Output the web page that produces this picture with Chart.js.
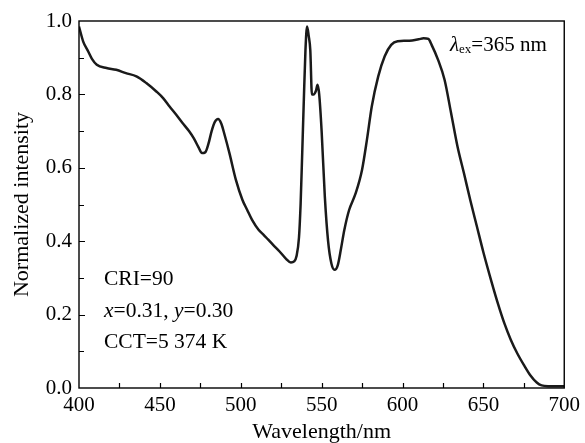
<!DOCTYPE html>
<html><head><meta charset="utf-8">
<script src="https://cdn.jsdelivr.net/npm/chart.js@4"></script>
<style>html,body{margin:0;padding:0;background:#fff;}#wrap{width:585px;height:443px;}</style>
</head><body><div id="wrap"><canvas id="c" width="585" height="443"></canvas></div>
<script>
const wavelengths = [400,402.6,405.7,408,411,417,423,429,435.5,441.6,447.8,452,456,460,464,468,471,474,476,478,480,482,484,486,488,490,493,497,501,504,507,511,514,517,520,524,528,531,533,534.5,536,537,538,539,540,541,542,543,544,545,546.5,547.5,548.5,550,552,554,556,558,560,562,564,567,571,575,578,581,585,589,593,597,602,606,610,613,616,618,622,626,630,634,638,642,646,650,655,659,663,667,671,675,679,683,686,690,700];
const intensity = [0.985,0.944,0.917,0.897,0.881,0.872,0.867,0.858,0.849,0.831,0.808,0.79,0.767,0.745,0.722,0.70,0.68,0.655,0.64,0.642,0.665,0.70,0.725,0.733,0.72,0.69,0.64,0.567,0.513,0.485,0.458,0.431,0.418,0.404,0.39,0.372,0.352,0.342,0.345,0.36,0.41,0.50,0.64,0.785,0.92,0.985,0.96,0.92,0.80,0.80,0.81,0.826,0.80,0.70,0.52,0.40,0.34,0.322,0.335,0.38,0.43,0.485,0.53,0.595,0.676,0.767,0.849,0.904,0.935,0.945,0.946,0.947,0.95,0.953,0.951,0.935,0.894,0.84,0.75,0.658,0.585,0.51,0.44,0.37,0.29,0.23,0.176,0.131,0.094,0.063,0.035,0.015,0.007,0.005,0.005];
const xTickLabels = ['400','450','500','550','600','650','700'];
const yTickLabels = ['0.0','0.2','0.4','0.6','0.8','1.0'];
const xTitle = 'Wavelength/nm';
const yTitle = 'Normalized intensity';
const infoLines = [
  [['CRI=90','n']],
  [['x','i'],['=0.31, ','n'],['y','i'],['=0.30','n']],
  [['CCT=5 374 K','n']]
];
const exLabel = [['λ','i'],['ex','s'],['=365 nm','n']];

const SERIF = '"Liberation Serif", "DejaVu Serif", serif';

const framePlugin = {
  id: 'frame',
  afterDraw(chart) {
    const {ctx, chartArea: a, scales: {x, y}} = chart;
    ctx.save();
    ctx.strokeStyle = '#000';
    ctx.lineWidth = 1.4;
    ctx.strokeRect(a.left, a.top, a.right - a.left, a.bottom - a.top);
    ctx.lineWidth = 1.2;
    ctx.beginPath();
    x.ticks.forEach(t => {
      if (t.value <= x.min || t.value >= x.max) return;
      const px = Math.round(x.getPixelForValue(t.value)) + 0.5;
      ctx.moveTo(px, a.bottom); ctx.lineTo(px, a.bottom - 5);
    });
    y.ticks.forEach(t => {
      if (t.value <= y.min + 1e-9 || t.value >= y.max - 1e-9) return;
      const py = Math.round(y.getPixelForValue(t.value)) + 0.5;
      const len = Math.round(t.value * 10) % 2 === 0 ? 6 : 5;
      ctx.moveTo(a.left, py); ctx.lineTo(a.left + len, py);
    });
    ctx.stroke();

    ctx.fillStyle = '#000';
    ctx.textBaseline = 'middle';
    ctx.textAlign = 'left';
    const drawSegs = (segs, x0, y0, size) => {
      let cx = x0;
      segs.forEach(([txt, st]) => {
        let yy = y0;
        if (st === 'i') ctx.font = 'italic ' + size + 'px ' + SERIF;
        else if (st === 's') { ctx.font = Math.round(size * 0.62) + 'px ' + SERIF; yy = y0 + size * 0.22; }
        else ctx.font = size + 'px ' + SERIF;
        ctx.fillText(txt, cx, yy);
        cx += ctx.measureText(txt).width;
      });
    };
    const lineY = [279, 311, 342];
    infoLines.forEach((segs, i) => drawSegs(segs, a.left + 25, lineY[i], 21.5));
    drawSegs(exLabel, 450, 45, 21);
    ctx.restore();
  }
};

new Chart(document.getElementById('c'), {
  type: 'line',
  data: {
    datasets: [{
      data: wavelengths.map((w, i) => ({x: w, y: intensity[i]})),
      borderColor: '#1a1a1a',
      borderWidth: 2.5,
      pointRadius: 0,
      cubicInterpolationMode: 'monotone',
      fill: false
    }]
  },
  options: {
    responsive: false,
    animation: false,
    devicePixelRatio: 1,
    layout: {padding: {top: 21, right: 18, left: 0, bottom: 0}},
    plugins: {legend: {display: false}, tooltip: {enabled: false}},
    scales: {
      x: {
        type: 'linear', min: 400, max: 700,
        afterFit: s => { s.height = 55; },
        grid: {display: false, drawTicks: false},
        border: {display: false},
        ticks: {
          stepSize: 25, autoSkip: false, maxRotation: 0, padding: 5,
          color: '#000', font: {family: SERIF, size: 21},
          callback: v => (v % 50 === 0 ? xTickLabels[(v - 400) / 50] : '')
        },
        title: {display: true, text: xTitle, color: '#000',
          font: {family: SERIF, size: 22, lineHeight: 1}, padding: {top: 0, bottom: 0}}
      },
      y: {
        min: 0, max: 1,
        afterFit: s => { s.width = 79; },
        grid: {display: false, drawTicks: false},
        border: {display: false},
        ticks: {
          stepSize: 0.1, autoSkip: false, padding: 7,
          color: '#000', font: {family: SERIF, size: 21},
          callback: v => { const k = Math.round(v * 10); return k % 2 === 0 ? yTickLabels[k / 2] : ''; }
        },
        title: {display: true, text: yTitle, color: '#000',
          font: {family: SERIF, size: 22, lineHeight: 1}, padding: {top: 11, bottom: 0}}
      }
    }
  },
  plugins: [framePlugin]
});
</script>
</body></html>
